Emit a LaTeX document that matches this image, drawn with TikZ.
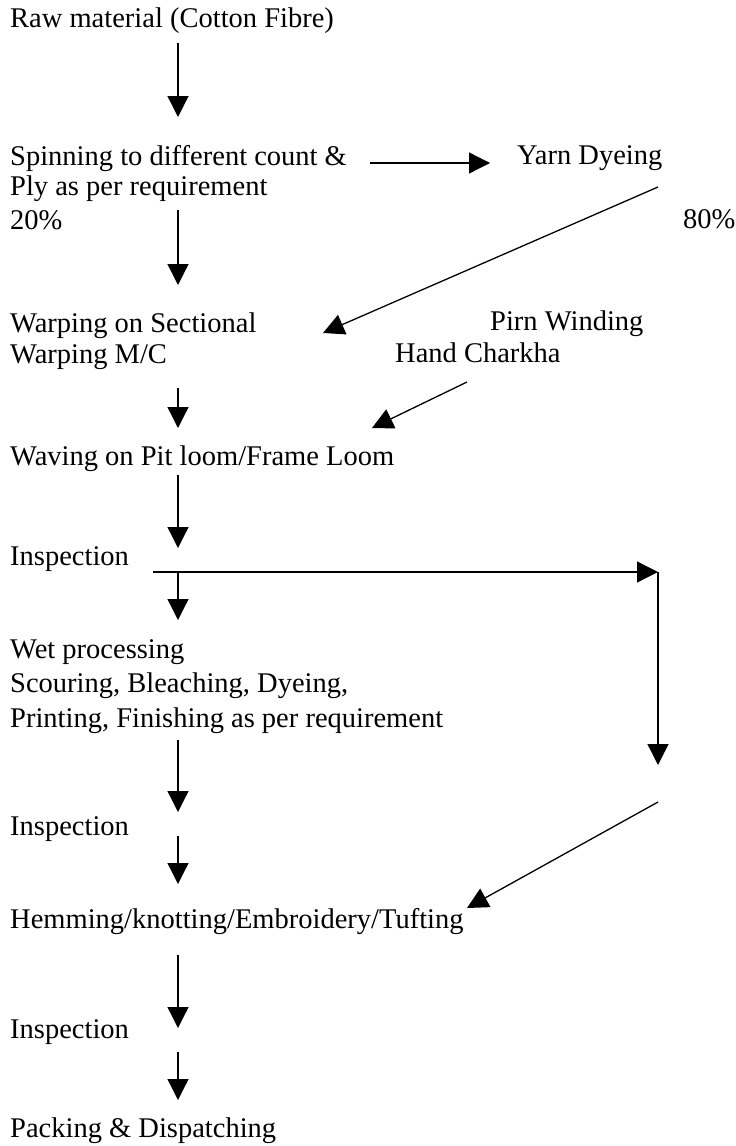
\documentclass[tikz,border=0pt]{standalone}
\usepackage{fontspec}
\setmainfont{Liberation Serif}
\usetikzlibrary{arrows.meta, positioning}

\tikzset{
  lbl/.style={anchor=base west, inner sep=0pt, align=left, font=\fontsize{28.5}{31}\selectfont},
  flow/.style={-{Triangle[length=21pt,width=21pt]}, line width=1.3pt},
}

\begin{document}
\begin{tikzpicture}[x=1pt, y=-1pt]
\useasboundingbox (0,0) rectangle (736,1146);
% process steps (base = last line)
\node[lbl] (raw) at (10,27) {Raw material (Cotton Fibre)};
\node[lbl, font=\fontsize{28.5}{30}\selectfont] (spin) at (10,195) {Spinning to different count \&\\Ply as per requirement};
\node[lbl] (p20) at (10,229) {20\%};
\node[lbl] (yarn) at (517,164) {Yarn Dyeing};
\node[lbl] (p80) at (683,228) {80\%};
\node[lbl] (warp) at (10,363) {Warping on Sectional\\Warping M/C};
\node[lbl] (pirn) at (490,330) {Pirn Winding};
\node[lbl] (hand) at (395,362) {Hand Charkha};
\node[lbl] (weave) at (10,465) {Waving on Pit loom/Frame Loom};
\node[lbl] (insp1) at (10,565) {Inspection};
\node[lbl, font=\fontsize{28.5}{34.5}\selectfont] (wet) at (10,727) {Wet processing\\Scouring, Bleaching, Dyeing,\\Printing, Finishing as per requirement};
\node[lbl] (insp2) at (10,835) {Inspection};
\node[lbl] (hem) at (10,928) {Hemming/knotting/Embroidery/Tufting};
\node[lbl] (insp3) at (10,1038) {Inspection};
\node[lbl] (pack) at (10,1137) {Packing \& Dispatching};

% arrow ends
\coordinate (rawout) at (178,43);   \coordinate (spinin) at (178,117);
\coordinate (spinout) at (178,210); \coordinate (warpin) at (178,285);
\coordinate (spinr) at (370,163);   \coordinate (yarnin) at (490,163);
\coordinate (yarnout) at (658,187); \coordinate (warpr) at (323,333);
\coordinate (warpout) at (178,388); \coordinate (weavein) at (178,428);
\coordinate (handout) at (467,382); \coordinate (weaver) at (372,428);
\coordinate (weaveout) at (178,475); \coordinate (insp1in) at (178,548);
\coordinate (insp1l) at (153,572);  \coordinate (insp1out) at (178,572);
\coordinate (wetin) at (178,620);
\coordinate (corner) at (658,572);  \coordinate (sidein) at (658,765);
\coordinate (sideout) at (658,802); \coordinate (hemr) at (467,908);
\coordinate (wetout) at (178,740);  \coordinate (insp2in) at (178,812);
\coordinate (insp2out) at (178,836); \coordinate (hemin) at (178,884);
\coordinate (hemout) at (178,955);  \coordinate (insp3in) at (178,1028);
\coordinate (insp3out) at (178,1052); \coordinate (packin) at (178,1100);

% connectors
\draw[flow] (rawout) -- (spinin);
\draw[flow] (spinout) -- (warpin);
\draw[flow] (spinr) -- (yarnin);
\draw[flow] (yarnout) -- (warpr);
\draw[flow] (warpout) -- (weavein);
\draw[flow] (handout) -- (weaver);
\draw[flow] (weaveout) -- (insp1in);
\draw[flow] (insp1l) -- (corner);
\draw[flow] (insp1out) -- (wetin);
\draw[flow] (corner) -- (sidein);
\draw[flow] (sideout) -- (hemr);
\draw[flow] (wetout) -- (insp2in);
\draw[flow] (insp2out) -- (hemin);
\draw[flow] (hemout) -- (insp3in);
\draw[flow] (insp3out) -- (packin);
\end{tikzpicture}
\end{document}
